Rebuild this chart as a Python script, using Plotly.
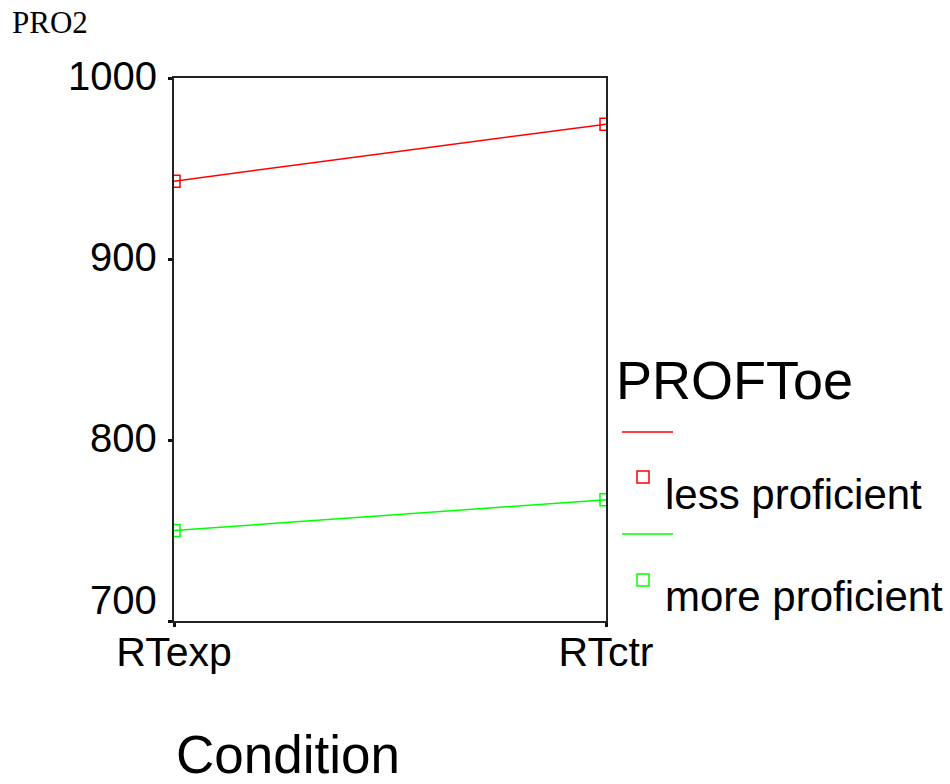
import plotly.graph_objects as go

# ---- data ----
conditions = ["RTexp", "RTctr"]
less_proficient = [943, 974.5]
more_proficient = [750, 767]
series_names = ["less proficient", "more proficient"]
series_colors = ["#ff0000", "#00ff00"]
y_ticks = [700, 800, 900, 1000]
y_tick_labels = ["700", "800", "900", "1000"]

W, H = 950, 784
PL, PR, PT, PB = 174, 606, 78, 621  # plot area in screen pixels
L, T, R, B = PL, PT, W - PR, H - PB
PW, PH = PR - PL, PB - PT


def px(x):
    return (x - PL) / PW


def py(y):
    return (PB - y) / PH


fig = go.Figure()
for name, vals, col in zip(series_names, [less_proficient, more_proficient], series_colors):
    fig.add_trace(go.Scatter(
        x=conditions, y=vals, mode="lines+markers", name=name,
        line=dict(color=col, width=1.5),
        marker=dict(symbol="square-open", size=12, color=col, line=dict(width=1.5, color=col)),
        showlegend=False, cliponaxis=True,
    ))

font_sans = "Liberation Sans, Arial, sans-serif"

fig.update_layout(
    width=W, height=H,
    margin=dict(l=L, r=R, t=T, b=B, pad=0),
    paper_bgcolor="white", plot_bgcolor="white",
    xaxis=dict(
        type="category", range=[0, 1], showgrid=False, zeroline=False,
        showline=True, linecolor="#222", linewidth=2, mirror=True,
        ticks="outside", ticklen=4, tickwidth=3, tickcolor="#111",
        tickfont=dict(family=font_sans, size=41, color="black"),
        ticklabelstandoff=-10,
    ),
    yaxis=dict(
        range=[700, 1000], tickvals=y_ticks, showgrid=False, zeroline=False,
        showline=True, linecolor="#222", linewidth=2, mirror=True,
        ticks="outside", ticklen=4, tickwidth=3, tickcolor="#111",
        showticklabels=False,
    ),
)

annotations = []
# y tick labels (the lowest one is lifted above the x-axis labels)
for v, lab in zip(y_ticks, y_tick_labels):
    annotations.append(dict(
        text=lab, xref="paper", yref="y", x=0, y=v, xanchor="right", yanchor="middle",
        xshift=-15, yshift=21 if v == min(y_ticks) else 2,
        font=dict(family=font_sans, size=40, color="black"), showarrow=False))

text_annots = [
    dict(text="PRO2", x=px(10), y=py(22), xanchor="left", yanchor="middle",
         font=dict(family="Liberation Serif, Times New Roman, serif", size=31, color="black")),
    dict(text="Condition", x=px(174), y=py(754), xanchor="left", yanchor="middle",
         font=dict(family=font_sans, size=53, color="black")),
    dict(text="PROFToe", x=px(614), y=py(380), xanchor="left", yanchor="middle",
         font=dict(family=font_sans, size=54, color="black")),
    dict(text=series_names[0], x=px(663), y=py(494), xanchor="left", yanchor="middle",
         font=dict(family=font_sans, size=42, color="black")),
    dict(text=series_names[1], x=px(663), y=py(596), xanchor="left", yanchor="middle",
         font=dict(family=font_sans, size=42, color="black")),
]
for a in text_annots:
    a.update(xref="paper", yref="paper", showarrow=False)
annotations += text_annots
fig.update_layout(annotations=annotations)

shapes = []
for i, col in enumerate(series_colors):
    ly = 432 + i * 102
    sy = 477 + i * 103
    shapes.append(dict(type="line", xref="paper", yref="paper",
                       x0=px(622), x1=px(673), y0=py(ly), y1=py(ly),
                       line=dict(color=col, width=1.5)))
    shapes.append(dict(type="rect", xref="paper", yref="paper",
                       x0=px(637), x1=px(649), y0=py(sy - 6), y1=py(sy + 6),
                       line=dict(color=col, width=1.5)))
fig.update_layout(shapes=shapes)

fig.write_html("out.html", config={"displayModeBar": False},
               post_script="document.body.style.margin='0';")
